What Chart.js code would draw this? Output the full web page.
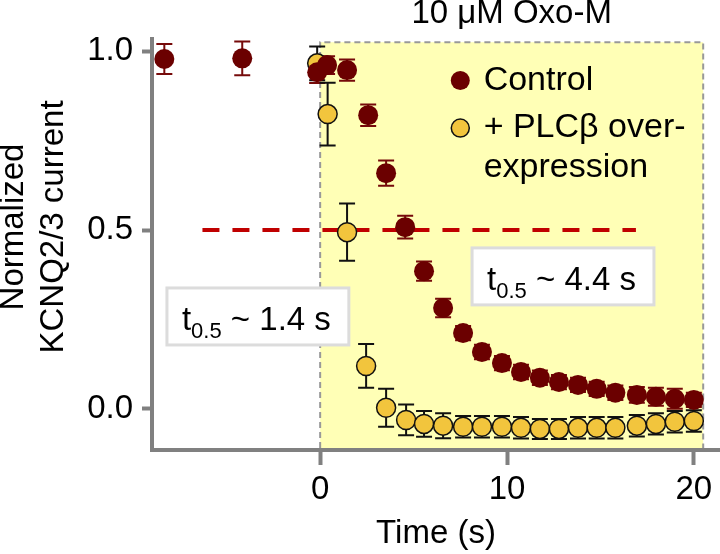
<!DOCTYPE html>
<html>
<head>
<meta charset="utf-8">
<script src="https://cdn.jsdelivr.net/npm/chart.js@4.4.1/dist/chart.umd.min.js"></script>
<style>
  html, body { margin: 0; padding: 0; background: #fff; }
</style>
</head>
<body>
<canvas id="chart" width="720" height="554"></canvas>
<script>
// time (s) and normalized current
const controlTime = [-8.34, -4.17, -0.16, 0.37, 1.44, 2.57, 3.53, 4.55, 5.56, 6.58, 7.65, 8.66, 9.73, 10.75, 11.76, 12.78, 13.8, 14.8, 15.8, 16.95, 17.97, 18.98, 20.0];
const controlMean = [0.978, 0.98, 0.941, 0.961, 0.947, 0.821, 0.659, 0.508, 0.385, 0.282, 0.212, 0.159, 0.128, 0.103, 0.087, 0.075, 0.067, 0.056, 0.045, 0.039, 0.034, 0.028, 0.025];
const controlErr  = [0.042, 0.047, 0.03, 0.025, 0.03, 0.03, 0.035, 0.032, 0.027, 0.026, 0.02, 0.02, 0.02, 0.02, 0.02, 0.02, 0.02, 0.02, 0.02, 0.022, 0.025, 0.028, 0.02];

const plcTime = [-0.16, 0.4, 1.44, 2.46, 3.53, 4.6, 5.56, 6.58, 7.65, 8.66, 9.73, 10.75, 11.76, 12.78, 13.8, 14.8, 15.8, 16.95, 17.97, 18.98, 20.0];
const plcMean = [0.966, 0.824, 0.494, 0.12, 0.003, -0.031, -0.042, -0.047, -0.05, -0.05, -0.05, -0.053, -0.056, -0.056, -0.053, -0.053, -0.053, -0.047, -0.042, -0.036, -0.034];
const plcErr  = [0.047, 0.088, 0.08, 0.061, 0.053, 0.043, 0.036, 0.035, 0.03, 0.03, 0.03, 0.03, 0.028, 0.028, 0.03, 0.03, 0.03, 0.03, 0.03, 0.03, 0.03];

const xTicks = [0, 10, 20];
const yTicks = [0, 0.5, 1.0];

const oxoWindow = [0, 20.5];      // agonist application
const halfLevel = 0.5;
const halfLineSpan = [-6.3, 16.9];
const halfTimes = [1.4, 4.4];     // t0.5 PLC, control

const FONT = "'Liberation Sans', Arial, Helvetica, sans-serif";
const AXIS_GREY = '#808080';
const CONTROL_RED = '#6b0000';
const PLC_YELLOW = '#f2c53d';

const toXY = (xs, ys) => xs.map((t, i) => ({ x: t, y: ys[i] }));

// let the time axis run to the canvas edge like the original
const fullWidth = {
  id: 'fullWidth',
  afterLayout(chart) {
    const x = chart.scales.x;
    const right = chart.width;
    x.right = right;
    x.width = right - x.left;
    chart.chartArea.right = right;
    chart.chartArea.width = right - chart.chartArea.left;
    x.configure();
  }
};

const overlay = {
  id: 'overlay',
  beforeDatasetsDraw(chart) {
    const { ctx, chartArea } = chart;
    const x = chart.scales.x, y = chart.scales.y;
    const x0 = x.getPixelForValue(oxoWindow[0]);
    const x1 = x.getPixelForValue(oxoWindow[1]);
    const top = y.getPixelForValue(1.025);
    const bottom = chartArea.bottom - 2;
    ctx.save();
    ctx.fillStyle = '#ffffb6';
    ctx.fillRect(x0, top, x1 - x0, bottom - top);
    ctx.setLineDash([6, 4]);
    ctx.strokeStyle = '#999';
    ctx.lineWidth = 2;
    ctx.beginPath();
    ctx.moveTo(x0, bottom);
    ctx.lineTo(x0, top);
    ctx.lineTo(x1, top);
    ctx.lineTo(x1, bottom);
    ctx.stroke();
    ctx.setLineDash([]);

    // error bars under the markers
    chart.data.datasets.forEach(ds => {
      if (!ds.errors) return;
      ctx.strokeStyle = ds.errColor;
      ctx.lineWidth = 2;
      ds.data.forEach((p, i) => {
        const px = x.getPixelForValue(p.x);
        const hi = y.getPixelForValue(p.y + ds.errors[i]);
        const lo = y.getPixelForValue(p.y - ds.errors[i]);
        ctx.beginPath();
        ctx.moveTo(px, hi); ctx.lineTo(px, lo);
        ctx.moveTo(px - 8, hi); ctx.lineTo(px + 8, hi);
        ctx.moveTo(px - 8, lo); ctx.lineTo(px + 8, lo);
        ctx.stroke();
      });
    });
    ctx.restore();
  },
  afterDatasetsDraw(chart) {
    const { ctx, chartArea } = chart;
    const x = chart.scales.x, y = chart.scales.y;
    ctx.save();

    // t0.5 boxes
    const tBox = (xv, yv, val) => {
      const bx = x.getPixelForValue(xv);
      const by = y.getPixelForValue(yv);
      ctx.font = `33px ${FONT}`;
      const wT = ctx.measureText('t').width;
      const tail = ` ~ ${val.toFixed(1)} s`;
      const wTail = ctx.measureText(tail).width;
      ctx.font = `22px ${FONT}`;
      const wSub = ctx.measureText('0.5').width;
      const w = 15 + wT + wSub + wTail + 18;
      const h = 57;
      ctx.fillStyle = '#fff';
      ctx.fillRect(bx, by, w, h);
      ctx.strokeStyle = '#dcdcdc';
      ctx.lineWidth = 3;
      ctx.strokeRect(bx, by, w, h);
      ctx.fillStyle = '#000';
      ctx.textBaseline = 'alphabetic';
      ctx.textAlign = 'left';
      const base = by + 42;
      ctx.font = `33px ${FONT}`;
      ctx.fillText('t', bx + 15, base);
      ctx.font = `22px ${FONT}`;
      ctx.fillText('0.5', bx + 15 + wT, base + 8);
      ctx.font = `33px ${FONT}`;
      ctx.fillText(tail, bx + 15 + wT + wSub, base);
    };
    tBox(-8.2, 0.338, halfTimes[0]);
    tBox(8.13, 0.45, halfTimes[1]);

    // legend
    const lx = x.getPixelForValue(7.5);
    const tx = x.getPixelForValue(8.75);
    const rows = [y.getPixelForValue(0.918), y.getPixelForValue(0.785), y.getPixelForValue(0.674)];
    ctx.beginPath();
    ctx.arc(lx, rows[0], 9.5, 0, Math.PI * 2);
    ctx.fillStyle = CONTROL_RED;
    ctx.fill();
    ctx.beginPath();
    ctx.arc(lx, rows[1], 9, 0, Math.PI * 2);
    ctx.fillStyle = PLC_YELLOW;
    ctx.fill();
    ctx.strokeStyle = '#111';
    ctx.lineWidth = 1.5;
    ctx.stroke();
    ctx.fillStyle = '#000';
    ctx.font = `34px ${FONT}`;
    ctx.textAlign = 'left';
    ctx.textBaseline = 'middle';
    ctx.fillText('Control', tx, rows[0]);
    ctx.fillText('+ PLCβ over-', tx, rows[1]);
    ctx.fillText('expression', tx, rows[2]);

    // agonist label above the window
    ctx.textAlign = 'center';
    ctx.font = `33px ${FONT}`;
    ctx.fillText('10 μM Oxo-M', x.getPixelForValue((oxoWindow[0] + oxoWindow[1]) / 2), chartArea.top - 25);

    // y axis title, two lines
    ctx.translate(0, 227);
    ctx.rotate(-Math.PI / 2);
    ctx.font = `33px ${FONT}`;
    ctx.fillText('Normalized', 0, 14);
    ctx.fillText('KCNQ2/3 current', 0, 54);
    ctx.restore();
  }
};

new Chart(document.getElementById('chart'), {
  type: 'scatter',
  data: {
    datasets: [
      {
        label: 'Control',
        data: toXY(controlTime, controlMean),
        errors: controlErr,
        errColor: '#760a0a',
        backgroundColor: CONTROL_RED,
        borderColor: CONTROL_RED,
        borderWidth: 0,
        pointRadius: 10,
        order: 1
      },
      {
        label: '+ PLCβ overexpression',
        data: toXY(plcTime, plcMean),
        errors: plcErr,
        errColor: '#111',
        backgroundColor: PLC_YELLOW,
        borderColor: '#111',
        borderWidth: 1.5,
        pointRadius: 9.5,
        order: 2
      },
      {
        type: 'line',
        label: 'half',
        data: [{ x: halfLineSpan[0], y: halfLevel }, { x: halfLineSpan[1], y: halfLevel }],
        borderColor: '#c00000',
        borderWidth: 4,
        borderDash: [17, 13],
        pointRadius: 0,
        order: 3
      }
    ]
  },
  options: {
    responsive: false,
    animation: false,
    devicePixelRatio: 1,
    layout: { padding: { top: 39, right: 0, bottom: 0, left: 0 } },
    plugins: { legend: { display: false }, tooltip: { enabled: false } },
    scales: {
      x: {
        type: 'linear',
        min: -9,
        max: 21.4,
        afterBuildTicks: s => { s.ticks = xTicks.map(v => ({ value: v })); },
        afterFit: s => { s.height = 104; s.paddingLeft = 0; s.paddingRight = 0; },
        border: { color: AXIS_GREY, width: 4 },
        grid: { drawOnChartArea: false, drawTicks: true, tickLength: 15, tickWidth: 4, tickColor: AXIS_GREY },
        ticks: { color: '#000', font: { family: FONT, size: 33 }, padding: 5, maxRotation: 0 },
        title: { display: true, text: 'Time (s)', color: '#000', font: { family: FONT, size: 33 }, padding: { top: 0, bottom: 0 } }
      },
      y: {
        min: -0.115,
        max: 1.034,
        afterBuildTicks: s => { s.ticks = yTicks.map(v => ({ value: v })); },
        afterFit: s => { s.width = 152; s.paddingTop = 0; s.paddingBottom = 0; },
        border: { color: AXIS_GREY, width: 4 },
        grid: { drawOnChartArea: false, drawTicks: true, tickLength: 10, tickWidth: 4, tickColor: AXIS_GREY },
        ticks: { color: '#000', font: { family: FONT, size: 33 }, padding: 9, callback: v => v.toFixed(1) }
      }
    }
  },
  plugins: [fullWidth, overlay]
});
</script>
</body>
</html>
